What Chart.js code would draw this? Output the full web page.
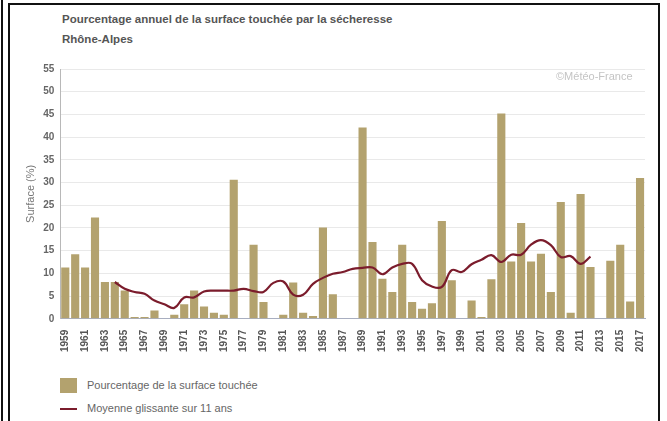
<!DOCTYPE html>
<html>
<head>
<meta charset="utf-8">
<script src="https://cdn.jsdelivr.net/npm/chart.js@4"></script>
<style>
  html, body { margin: 0; background: #fff; font-family: "Liberation Sans", Arial, sans-serif; overflow: hidden; width: 667px; height: 421px; }
  .bord { position: absolute; background: #111; z-index: 5; }
  #zone { position: absolute; left: 0; top: 0; width: 667px; height: 355px; }
  #copyright { position: absolute; left: 556px; top: 70px; font-size: 11px; color: #c4c4c4; }
  .titre { position: absolute; left: 62px; font-size: 11.5px; font-weight: bold; color: #555; }
  .leg { position: absolute; left: 87px; font-size: 11px; color: #666; }
</style>
</head>
<body>
<div class="bord" style="left:1px;top:0;width:2px;height:421px"></div>
<div class="bord" style="left:8px;top:3px;width:2px;height:418px"></div>
<div class="bord" style="left:8px;top:3px;width:652px;height:2px"></div>
<div class="bord" style="left:658px;top:3px;width:2px;height:418px"></div>
<div class="titre" style="top:13px">Pourcentage annuel de la surface touchée par la sécheresse</div>
<div class="titre" style="top:33px">Rhône-Alpes</div>
<div id="zone"><canvas id="secheresse"></canvas></div>
<div id="copyright">©Météo-France</div>
<div style="position:absolute;left:60px;top:378px;width:17px;height:15px;background:#b3a26e"></div>
<div class="leg" style="top:379px">Pourcentage de la surface touchée</div>
<div style="position:absolute;left:60px;top:408px;width:17px;height:2px;background:#7b1c2c"></div>
<div class="leg" style="top:402px">Moyenne glissante sur 11 ans</div>
<script>
const annees = [];
for (let a = 1959; a <= 2017; a++) annees.push(String(a));

// surface touchée (%) par année
const surface = [
  11.3, 14.2, 11.3, 22.3, 8.1, 8.1, 6.2, 0.4, 0.4, 1.8,
  0, 0.9, 3.2, 6.2, 2.7, 1.3, 0.9, 30.6, 0, 16.3,
  3.7, 0, 0.9, 8.0, 1.3, 0.6, 20.1, 5.4, 0, 0,
  42.1, 16.9, 8.8, 5.9, 16.3, 3.7, 2.2, 3.4, 21.5, 8.5,
  0, 4.0, 0.4, 8.7, 45.2, 12.6, 21.1, 12.6, 14.3, 5.9,
  25.7, 1.3, 27.5, 11.4, 0, 12.8, 16.3, 3.8, 31.0
];

// moyenne glissante sur 11 ans (1964 -> 2012)
const moyenne = [
  null, null, null, null, null, 8.1, 6.6, 5.9, 5.5, 4.0,
  3.2, 2.4, 4.7, 4.7, 6.0, 6.2, 6.2, 6.2, 6.6, 6.1,
  5.9, 7.9, 8.2, 5.3, 5.3, 7.7, 9.0, 9.9, 10.3, 11.0,
  11.2, 11.3, 9.8, 11.3, 12.1, 12.1, 8.5, 7.1, 7.0, 10.7,
  10.3, 12.0, 13.0, 14.0, 12.5, 14.1, 14.1, 16.3, 17.3, 16.2,
  13.6, 13.8, 12.1, 13.7, null, null, null, null, null
];

const graduations = [0, 5, 10, 15, 20, 25, 30, 35, 40, 45, 50, 55];

const police = { family: '"Liberation Sans", Arial, sans-serif' };

new Chart(document.getElementById('secheresse'), {
  data: {
    labels: annees,
    datasets: [
      {
        type: 'line',
        label: 'Moyenne glissante sur 11 ans',
        data: moyenne,
        borderColor: '#7b1c2c',
        borderWidth: 2.2,
        pointRadius: 0,
        tension: 0.4,
        fill: false
      },
      {
        type: 'bar',
        label: 'Pourcentage de la surface touchée',
        data: surface,
        backgroundColor: '#b3a26e',
        barPercentage: 0.82,
        categoryPercentage: 1.0
      }
    ]
  },
  options: {
    responsive: true,
    maintainAspectRatio: false,
    animation: false,
    layout: { padding: { left: 20, right: 22, top: 69, bottom: 0 } },
    plugins: {
      legend: { display: false },
      tooltip: { enabled: false }
    },
    scales: {
      x: {
        grid: { display: false },
        border: { color: '#a8aec0' },
        ticks: {
          autoSkip: false,
          maxRotation: 90,
          minRotation: 90,
          color: '#555',
          font: { ...police, size: 10, weight: 'bold' },
          callback: function (v, i) { return i % 2 === 0 ? annees[i] : ''; }
        }
      },
      y: {
        min: 0,
        max: 55,
        afterBuildTicks: axe => { axe.ticks = graduations.map(v => ({ value: v })); },
        grid: { color: '#e9e9e9', drawTicks: false },
        border: { color: '#b8b8b8' },
        ticks: { color: '#666', font: { ...police, size: 10, weight: 'bold' }, padding: 6 },
        title: { display: true, text: 'Surface (%)', color: '#777', font: { ...police, size: 11 }, padding: { top: 4, bottom: 0 } }
      }
    }
  }
});
</script>
</body>
</html>
